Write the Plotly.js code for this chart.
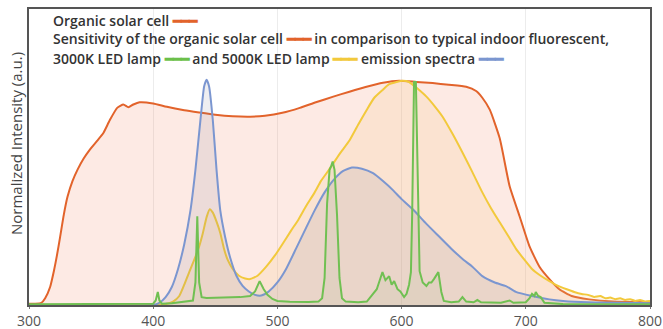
<!DOCTYPE html>
<html>
<head>
<meta charset="utf-8">
<script src="https://cdn.plot.ly/plotly-3.0.1.min.js"></script>
<style>html,body{margin:0;padding:0;background:#fff;}#chart{width:663px;height:329px;}</style>
</head>
<body>
<div id="chart"></div>
<script>
// ---- Data (wavelength in nm, normalized intensity) ----
const solarCellNm = [300,305,310,313,317,320,322.5,325,328,331,335,339,344,349,355,360,365,371,376,380,384,389,400,411,425,437,450,464,478,490,504,518,531,545,558,571,585,598,612,625,638,652,660,665,671,679,687,695,703,711,719,727,737,751,770,800];
const solarCellVal = [0.006,0.006,0.01,0.03,0.08,0.15,0.22,0.30,0.40,0.48,0.55,0.60,0.65,0.69,0.73,0.765,0.82,0.875,0.89,0.878,0.89,0.90,0.895,0.88,0.865,0.855,0.845,0.838,0.836,0.84,0.853,0.875,0.90,0.925,0.947,0.968,0.987,0.996,0.99,0.985,0.978,0.969,0.95,0.92,0.867,0.74,0.527,0.394,0.26,0.17,0.115,0.07,0.04,0.025,0.015,0.012];

const led3000Nm = [300,350,395,400,402,403.7,405,407,415,425,432,434,435.5,437,439,443,455,470,478,482,485.7,489,492,496,500,510,525,533,536,538,540,542,543.5,544.5,546,548,550,552,555,565,572,576,580,583,584.6,587,590,592,594,596.7,599,602,604,606,607.5,608.5,610,611.5,613,614.5,617,620,622,624,626,629.6,632,634,640,646,649,652,658,661,664,680,687,690,700,703,705,707,708,710,712,715,730,800];
const led3000Val = [0.003,0.003,0.004,0.006,0.02,0.058,0.02,0.006,0.008,0.015,0.02,0.1,0.394,0.1,0.035,0.031,0.032,0.035,0.04,0.06,0.106,0.07,0.045,0.027,0.018,0.014,0.013,0.015,0.03,0.12,0.45,0.6,0.62,0.637,0.6,0.4,0.12,0.03,0.015,0.012,0.015,0.04,0.07,0.12,0.146,0.11,0.128,0.09,0.106,0.07,0.06,0.035,0.05,0.09,0.146,0.4,0.99,0.99,0.5,0.15,0.1,0.084,0.1,0.1,0.115,0.146,0.058,0.018,0.012,0.015,0.035,0.015,0.012,0.022,0.012,0.01,0.02,0.01,0.012,0.03,0.05,0.04,0.058,0.04,0.035,0.01,0.004,0.003];

const led5000Nm = [300,400,410,416,421,425,429,433,437,440,443,445.5,448,451,454,457,460,464,469,474,478,484,491,498,504,511,517,523,530,535,541.5,550,558,565,572,578,585,590,596,601,606,613,620,627,633,641,649,657,665,672,679,686,692,699,705,712,719,726,733,739,745,750,755,760,764,768,772,776,780,784,788,792,796,800];
const led5000Val = [0,0,0.004,0.015,0.04,0.09,0.146,0.2,0.26,0.32,0.39,0.425,0.41,0.37,0.32,0.25,0.2,0.16,0.13,0.118,0.115,0.13,0.17,0.22,0.27,0.33,0.38,0.438,0.5,0.55,0.6,0.67,0.73,0.8,0.867,0.92,0.956,0.98,0.99,0.995,0.99,0.96,0.925,0.88,0.836,0.76,0.677,0.59,0.5,0.43,0.367,0.305,0.25,0.2,0.16,0.13,0.106,0.085,0.07,0.058,0.049,0.045,0.036,0.04,0.03,0.033,0.026,0.03,0.022,0.026,0.018,0.022,0.016,0.018];

const emissionNm = [300,400,405,410,415,420,425,430,434,438,441,443,445,448,451,454,458,462,467,472,477,482,487,493,500,507,515,522,530,538,546,553,560,568,577,585,593,600,609,620,630,640,650,657,665,675,684,692,705,719,730,750,800];
const emissionVal = [0,0,0.01,0.035,0.08,0.16,0.27,0.42,0.6,0.82,0.97,1.0,0.97,0.82,0.6,0.42,0.3,0.21,0.13,0.085,0.06,0.045,0.042,0.06,0.1,0.16,0.25,0.33,0.42,0.5,0.56,0.595,0.61,0.605,0.585,0.55,0.51,0.47,0.425,0.36,0.305,0.25,0.2,0.17,0.128,0.1,0.084,0.058,0.04,0.025,0.018,0.012,0.008];

const xTicks = [300,400,500,600,700,800];
const yTitle = 'Normalized Intensity (a.u.)';
const legendLines = [
  ["Organic solar cell ", "#e2632b", ""],
  ["Sensitivity of the organic solar cell ", "#e2632b", " in comparison to typical indoor fluorescent,"],
  ["3000K LED lamp ", "#6cbf4a", " and 5000K LED lamp ", "#f2c93c", " emission spectra ", "#7b96d0"]
];

// ---- Traces ----
function tr(x, y, color, fill) {
  return {x: x, y: y, type: 'scatter', mode: 'lines', line: {color: color, width: 2, shape: 'spline', smoothing: 0.5},
          fill: 'tozeroy', fillcolor: fill, hoverinfo: 'skip', showlegend: false};
}
const traces = [
  tr(solarCellNm, solarCellVal, '#e2632b', 'rgba(244,150,120,0.2)'),
  tr(led5000Nm, led5000Val, '#f2c93c', 'rgba(245,195,110,0.16)'),
  tr(emissionNm, emissionVal, '#7b96d0', 'rgba(120,120,150,0.13)'),
  tr(led3000Nm, led3000Val, '#6cbf4a', 'rgba(130,170,100,0.08)')
];
traces[3].line.shape = 'linear';
traces[3].line.color = '#70c052';

const mk = c => `<span style="color:${c}">━━━</span>`;
const legText = [
  legendLines[0][0] + mk(legendLines[0][1]),
  legendLines[1][0] + mk(legendLines[1][1]) + legendLines[1][2],
  legendLines[2][0] + mk(legendLines[2][1]) + legendLines[2][2] + mk(legendLines[2][3]) + legendLines[2][4] + mk(legendLines[2][5])
];
const legY = [20, 39, 58];
const annotations = legText.map((t, i) => ({
  text: t, xref: 'paper', yref: 'paper', x: (51-29)/621, y: 1 - (legY[i]-9)/296,
  xanchor: 'left', yanchor: 'middle', showarrow: false,
  font: {family: '"Open Sans", sans-serif', size: 14, color: '#333', weight: 600}
}));
annotations.push({
  text: yTitle, xref: 'paper', yref: 'paper', x: -13/621, y: 1 - (144-9)/296,
  xanchor: 'center', yanchor: 'middle', textangle: -90, showarrow: false,
  font: {family: '"Open Sans", sans-serif', size: 15, color: '#444'}
});

const layout = {
  width: 663, height: 329,
  margin: {l: 29, r: 13, t: 9, b: 24},
  paper_bgcolor: '#fff', plot_bgcolor: '#fff',
  showlegend: false,
  xaxis: {range: [300, 800], tickvals: xTicks, ticktext: xTicks.map(String),
    showgrid: true, gridcolor: 'rgba(200,200,200,0.35)', gridwidth: 1,
    showline: true, linecolor: '#555', linewidth: 2, mirror: true,
    ticks: 'outside', ticklen: 2, tickcolor: '#777',
    tickfont: {family: '"Open Sans", sans-serif', size: 14, color: '#555'}, zeroline: false, fixedrange: true},
  yaxis: {range: [0, 1.314], showticklabels: false, ticks: '', showgrid: false, zeroline: false,
    showline: true, linecolor: '#555', linewidth: 2, mirror: true, fixedrange: true},
  annotations: annotations
};

Plotly.newPlot('chart', traces, layout, {staticPlot: true, displayModeBar: false});
</script>
</body>
</html>
